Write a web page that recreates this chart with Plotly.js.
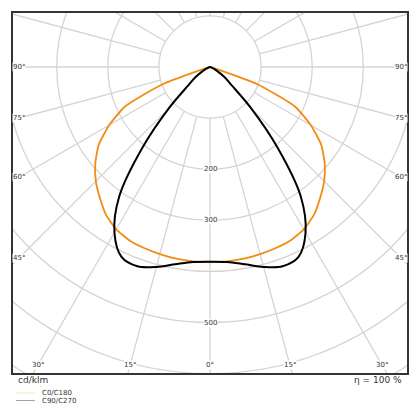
<!DOCTYPE html>
<html>
<head>
<meta charset="utf-8">
<script src="https://cdn.plot.ly/plotly-3.0.1.min.js"></script>
<style>html,body{margin:0;padding:0;background:#fff}#chart{width:420px;height:420px}</style>
</head>
<body>
<div id="chart"></div>
<script>
// Gamma angles (degrees from nadir)
const gammaDeg = [0,5,10,15,20,25,30,35,40,45,50,55,60,65,70,75,80,85,90];
// Luminous intensity, cd/klm (symmetric planes)
const c0c180   = [382,382,381,379,377,374,367,354,335,316,293,266,228,184,100,8,0,0,0];
const c90c270  = [381,383,392,405,415,410,374,310,205,113,55,35,18,8,3,0,0,0,0];
// Grid and labels
const gridRadii = [100,200,300,400,500,600,700];
const radiusLabels = [200,300,500];
const sideAngles = [90,75,60,45];
const bottomAngles = [30,15,0];
const seriesNames = ['C0/C180','C90/C270'];
const unitLabel = 'cd/klm';
const effLabel = 'η = 100 %';

const W = 420, H = 420;
const M = {l:13, r:13, t:13, b:47};
const pw = W - M.l - M.r, ph = H - M.t - M.b;
const scale = 0.511;                // px per cd/klm
const xHalf = pw/2/scale;
const yTop = 54/scale;
const yBot = yTop - ph/scale;

function curve(vals){
  const xs=[], ys=[];
  for(let i=gammaDeg.length-1;i>=0;i--){
    const a=gammaDeg[i]*Math.PI/180;
    xs.push(-vals[i]*Math.sin(a)); ys.push(-vals[i]*Math.cos(a));
  }
  for(let i=1;i<gammaDeg.length;i++){
    const a=gammaDeg[i]*Math.PI/180;
    xs.push(vals[i]*Math.sin(a)); ys.push(-vals[i]*Math.cos(a));
  }
  return {xs,ys};
}

const gridColor = '#d4d4d4';
const shapes = [];
gridRadii.forEach(r=>shapes.push({type:'circle',xref:'x',yref:'y',x0:-r,x1:r,y0:-r,y1:r,
  line:{color:gridColor,width:1.3},layer:'below'}));
for(let d=0; d<360; d+=15){
  const a=d*Math.PI/180;
  shapes.push({type:'line',xref:'x',yref:'y',
    x0:100*Math.sin(a), y0:-100*Math.cos(a), x1:900*Math.sin(a), y1:-900*Math.cos(a),
    line:{color:gridColor,width:1.3},layer:'below'});
}
// legend samples
shapes.push({type:'line',xref:'paper',yref:'paper',x0:3/pw,x1:22/pw,y0:-(393-M.t-ph)/ph,y1:-(393-M.t-ph)/ph,line:{color:'#f6e2c0',width:1}});
shapes.push({type:'line',xref:'paper',yref:'paper',x0:3/pw,x1:22/pw,y0:-(400.5-M.t-ph)/ph,y1:-(400.5-M.t-ph)/ph,line:{color:'#9ea4b4',width:1}});

const lblFont = {family:'DejaVu Sans, sans-serif', size:7, color:'#333'};
const annotations = [];
radiusLabels.forEach(r=>annotations.push({x:0,y:-r,xref:'x',yref:'y',text:String(r),showarrow:false,
  font:lblFont,bgcolor:'#fff',borderpad:0,xanchor:'center',yanchor:'middle'}));
const xin = xHalf - 6/scale;
sideAngles.forEach(d=>{
  const a=d*Math.PI/180;
  const y = d===90 ? 0 : -xin/Math.tan(a);
  [-1,1].forEach(s=>annotations.push({x:s*xin,y:y,xref:'x',yref:'y',text:d+'°',showarrow:false,
    font:lblFont,bgcolor:'#fff',borderpad:0,xanchor:'center',yanchor:'middle'}));
});
const yin = yBot + 8/scale;
bottomAngles.forEach(d=>{
  const a=d*Math.PI/180;
  const sides = d===0 ? [1] : [-1,1];
  sides.forEach(s=>annotations.push({x:s*(-yin)*Math.tan(a),y:yin,xref:'x',yref:'y',text:d+'°',showarrow:false,
    font:lblFont,bgcolor:'#fff',borderpad:0,xanchor:'center',yanchor:'middle'}));
});
const pfont = {family:'DejaVu Sans, sans-serif', size:9, color:'#333'};
annotations.push({xref:'paper',yref:'paper',x:3/pw,y:-(380-M.t-ph)/ph,text:unitLabel,showarrow:false,font:pfont,xanchor:'left',yanchor:'middle'});
annotations.push({xref:'paper',yref:'paper',x:1-3/pw,y:-(380-M.t-ph)/ph,text:effLabel,showarrow:false,font:pfont,xanchor:'right',yanchor:'middle'});
annotations.push({xref:'paper',yref:'paper',x:27/pw,y:-(393-M.t-ph)/ph,text:seriesNames[0],showarrow:false,font:lblFont,xanchor:'left',yanchor:'middle'});
annotations.push({xref:'paper',yref:'paper',x:27/pw,y:-(400.5-M.t-ph)/ph,text:seriesNames[1],showarrow:false,font:lblFont,xanchor:'left',yanchor:'middle'});

const o = curve(c0c180), b = curve(c90c270);
const traces = [
  {x:o.xs,y:o.ys,mode:'lines',name:seriesNames[0],line:{color:'#f28c12',width:1.8,shape:'spline',smoothing:0.5},hoverinfo:'skip'},
  {x:b.xs,y:b.ys,mode:'lines',name:seriesNames[1],line:{color:'#000',width:2,shape:'spline',smoothing:0.9},hoverinfo:'skip'}
];
const axis = {showgrid:false,zeroline:false,showticklabels:false,ticks:'',showline:true,mirror:true,linecolor:'#333',linewidth:1.6};
Plotly.newPlot('chart',traces,{
  width:W,height:H,margin:M,showlegend:false,
  paper_bgcolor:'#fff',plot_bgcolor:'#fff',
  xaxis:Object.assign({range:[-xHalf,xHalf]},axis),
  yaxis:Object.assign({range:[yBot,yTop]},axis),
  shapes:shapes,annotations:annotations
},{staticPlot:true,displayModeBar:false});
</script>
</body>
</html>
